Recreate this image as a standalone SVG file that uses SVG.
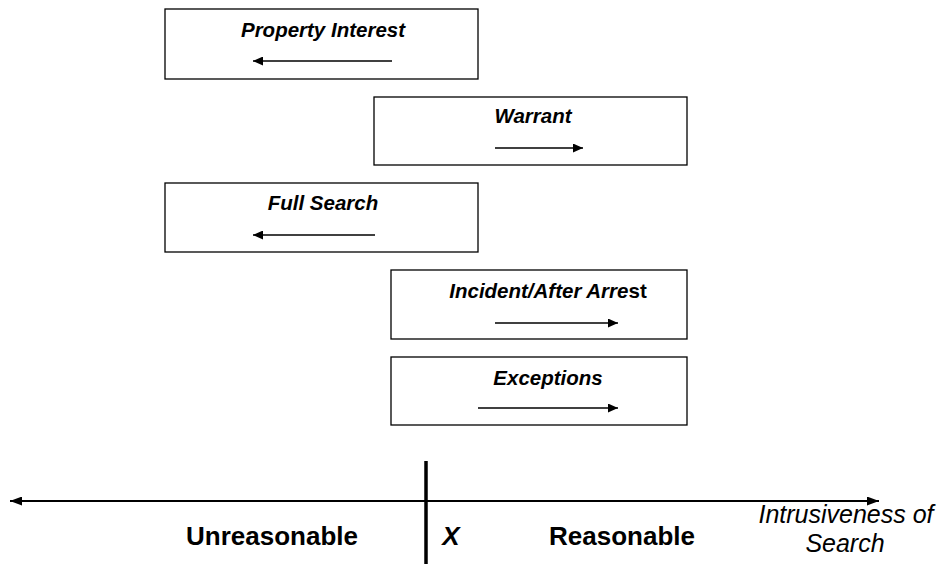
<svg xmlns="http://www.w3.org/2000/svg" width="939" height="564" viewBox="0 0 939 564">
  <style>
    .box { fill: #fff; stroke: #000; stroke-width: 1.3; }
    .title { font-family: "Liberation Sans", Arial, sans-serif; font-size: 20.5px; font-weight: bold; font-style: italic; text-anchor: middle; fill: #000; }
    .dir { stroke: #000; stroke-width: 1.3; fill: none; marker-end: url(#head); }
    .axis { stroke: #000; stroke-width: 2.2; fill: none; }
    .zone { font-family: "Liberation Sans", Arial, sans-serif; font-size: 26px; font-weight: bold; fill: #000; text-anchor: middle; }
    .note { font-family: "Liberation Sans", Arial, sans-serif; font-size: 25px; font-style: italic; fill: #000; text-anchor: middle; }
  </style>
  <defs>
    <marker id="head" viewBox="0 0 10 10" refX="10" refY="5" markerWidth="10" markerHeight="9" markerUnits="userSpaceOnUse" orient="auto" preserveAspectRatio="none">
      <path d="M0,0 L10,5 L0,10 z" fill="#000"/>
    </marker>
    <marker id="axhead" viewBox="0 0 10 10" refX="10" refY="5" markerWidth="12" markerHeight="9" markerUnits="userSpaceOnUse" orient="auto" preserveAspectRatio="none">
      <path d="M0,0 L10,5 L0,10 z" fill="#000"/>
    </marker>
  </defs>
  <rect width="939" height="564" fill="#fff"/>

  <g id="property-interest">
    <rect class="box" x="165" y="9" width="313" height="70"/>
    <text class="title" x="323" y="37">Property Interest</text>
    <line class="dir" x1="392" y1="61" x2="253" y2="61"/>
  </g>

  <g id="warrant">
    <rect class="box" x="374" y="97" width="313" height="68"/>
    <text class="title" x="533" y="123">Warrant</text>
    <line class="dir" x1="495" y1="148" x2="583" y2="148"/>
  </g>

  <g id="full-search">
    <rect class="box" x="165" y="183" width="313" height="69"/>
    <text class="title" x="323" y="210">Full Search</text>
    <line class="dir" x1="375" y1="235" x2="253" y2="235"/>
  </g>

  <g id="incident-after-arrest">
    <rect class="box" x="391" y="270" width="296" height="69"/>
    <text class="title" x="548" y="298">Incident/After Arre<tspan font-style="normal">st</tspan></text>
    <line class="dir" x1="495" y1="323" x2="618" y2="323"/>
  </g>

  <g id="exceptions">
    <rect class="box" x="391" y="357" width="296" height="68"/>
    <text class="title" x="548" y="385">Exceptions</text>
    <line class="dir" x1="478" y1="408" x2="618" y2="408"/>
  </g>

  <g id="connectors">
    <line class="axis" x1="426" y1="501" x2="10" y2="501" marker-end="url(#axhead)"/>
    <line class="axis" x1="426" y1="501" x2="879" y2="501" marker-end="url(#axhead)"/>
    <line stroke="#000" stroke-width="3.5" x1="426" y1="461" x2="426" y2="564"/>
  </g>

  <g id="scale-labels">
    <text class="zone" x="272" y="545">Unreasonable</text>
    <text class="zone" x="451" y="545" font-style="italic">X</text>
    <text class="zone" x="622" y="545">Reasonable</text>
    <text class="note" x="846" y="523">Intrusiveness of</text>
    <text class="note" x="845" y="552">Search</text>
  </g>
</svg>
